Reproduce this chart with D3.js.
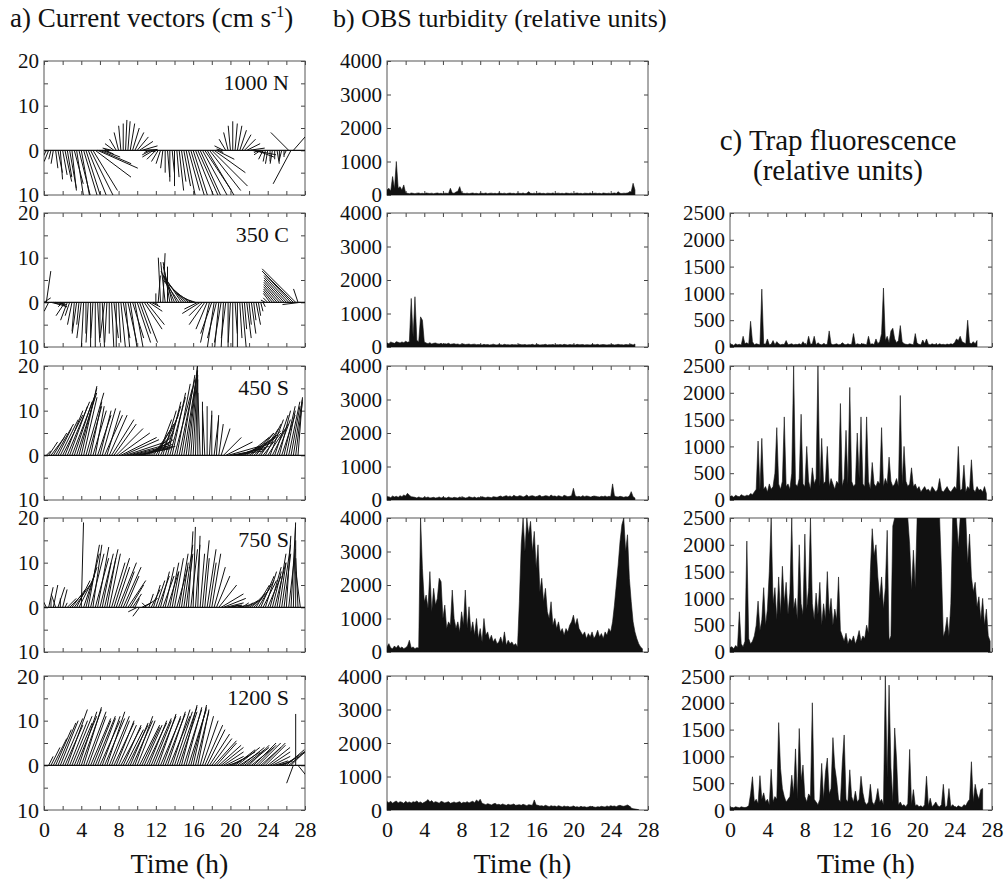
<!DOCTYPE html>
<html>
<head>
<meta charset="utf-8">
<script src="https://cdn.jsdelivr.net/npm/d3@7/dist/d3.min.js"></script>
<style>
  body { margin: 0; background: #fff; }
  text { font-family: "Liberation Serif", "Times New Roman", serif; fill: #111; }
</style>
</head>
<body>
<div id="vis"></div>
<script>
// ---- data ----
const stations = ["1000 N", "350 C", "450 S", "750 S", "1200 S"];
const stickStep = 0.25;   // h between current vectors
const seriesStep = 0.2;   // h between turbidity / fluorescence samples

const timeTicks = [0, 4, 8, 12, 16, 20, 24, 28];
const currentTicks = [-10, 0, 10, 20];
const obsTicks = [0, 1000, 2000, 3000, 4000];
const trapTicks = [0, 500, 1000, 1500, 2000, 2500];

// current vectors [u, v] in cm/s
const vec1000N = [
  [-1.5,-1.5],[-1,-2],[-1,-2.5],[-0.5,-2],[-0.5,-3],[0.5,-4],[1,-5],[0.5,-6.5],
  [1,-5.5],[1.5,-7],[1,-6],[1.5,-8.5],[1,-9],[2,-7.5],[1.5,-10],[2.5,-10],
  [2,-11],[3,-10],[3.5,-11],[4,-10],[5,-10],[5.5,-9],[8,-6],[9,-4],
  [7,-3],[4,-1.5],[2,-0.8],[0.5,-0.3],[-1,0.2],[-2,0.5],[-2,1.5],[-1.5,2.5],
  [-1,4],[-0.5,5.5],[0,6],[0.3,6.8],[0.5,6.5],[1,6],[1.5,5],[2,4],
  [2.5,3],[3,2],[3.5,1],[3,0.2],[2,-0.3],[-1,-0.5],[-2,-1],[-2.5,-1.5],
  [-2,-2],[-1.5,-2.5],[-1,-3],[-0.5,-4],[0,-5],[0.5,-6],[0,-7],[0.5,-5],
  [0,-8],[0.5,-6],[1,-9],[1,-7],[1.5,-8],[2,-10],[2.5,-9],[3,-10],
  [3.5,-11],[4,-10],[4.5,-10],[5,-11],[5.5,-10],[6,-9],[6,-10],[7,-9],
  [8,-8],[7,-5],[4,-2],[1,-0.5],[-1,0.3],[-2,1],[-1.5,2.5],[-1,4],
  [-0.5,5.5],[0,6.5],[0.5,6],[1,5.5],[1.5,4.5],[2,3.5],[2.5,2.5],[3,1.5],
  [3.5,0.5],[3,-0.5],[5,-1],[4,-1.5],[-1,-0.5],[-1.5,-1],[-1,-2],[-0.5,-2.5],
  [-0.5,-3],[0,-2.5],[-0.5,-3],[0,-2],[0.5,-3],[0,-2.5],[-0.5,-2],[0,-1.5],
  [-0.5,-1],[-4,4],[-4,-7.5],[3.5,4]
];
const vec350C = [
  [1.5,1],[1,7],[-1,-2],[2,-0.5],[3,-1],[2.5,-0.5],[2,-1],[1,-0.5],
  [-1,-1],[-2,-3],[-1.5,-4],[-1,-3],[-1,-5],[-0.5,-6.5],[-1,-7],[-0.5,-5],
  [-1,-8],[-0.5,-10],[0,-7],[-0.5,-9],[0,-10],[-0.5,-8],[0,-11],[0.5,-9],
  [0,-7],[0.5,-10],[-1,-8],[-0.5,-9],[0,-7],[0.5,-10],[1,-8],[0,-11],
  [0.5,-9],[1,-10],[1.5,-8],[1,-11],[2,-9],[1.5,-10],[2.5,-8],[2,-11],
  [3,-9],[2.5,-7],[3.5,-9],[4,-6],[4,-5],[3,-2],[2,-1],[1,-0.5],
  [0,2],[0.5,6],[-0.5,10],[0.5,11],[-1,9],[0,8],[-1.5,9],[-2,8],
  [-3,7],[-3,6],[-3.5,5],[-4,6],[-4,5],[-4,4],[-3.5,3],[-3,2],
  [-2,1],[-1.5,0.5],[-3,-1.5],[-4,-2.5],[-3,-3],[-3.5,-5],[-2.5,-6],[-2,-9],
  [-2.5,-7],[-1.5,-10],[-2,-8],[-1,-11],[-1.5,-9],[-0.5,-10],[-1,-8],[0,-11],
  [-0.5,-9],[0,-10],[0.5,-7],[0,-10],[0.5,-8],[1,-11],[0.5,-6],[1,-8],
  [0.5,-5],[1,-7],[0.5,-4],[1,-5],[0.5,-3],[0.5,-2],[0.5,-1],[-1,0.5],
  [-1,1],[-1.5,2],[-2,2.5],[-2.5,3],[-3,3.5],[-3.5,4],[-4,4.5],[-4.5,5],
  [-5,5.5],[-5.5,6],[-6,6.5],[-7,7],[-7.5,7.5],[-1,3],[-4,-0.5]
];
const vec450S = [
  [0,0],[1,1],[2,3],[3,4],[3,5],[4,7],[3,6],[4,8],
  [4.5,9],[4,10],[5,12],[4,11],[5,13],[4,12],[4.5,14],[4,15],
  [3.5,15.5],[3,13],[4,14],[3,11],[2.5,12],[3,10],[2,11],[3,9],
  [2.5,10],[3,10.5],[4,9],[3,10],[4,9],[5,8],[5,7],[6,6],
  [7,5],[8,4],[8,3.5],[9,3],[9,2.5],[8,2],[9,2],[8,1.5],
  [7,1.5],[8,2],[7,2.5],[6,3],[6,3.5],[5,4],[5,5],[4,6],
  [4,7],[3,8],[4,9],[3,10],[3.5,11],[3,12],[3.5,13],[3,14],
  [4,15],[3,16],[3.5,17],[3,18],[3,18.5],[2.5,19],[2,20],[1.5,20],
  [1,19],[0.5,18],[0,17],[-0.5,14],[0,12],[-0.5,10],[0,11],[0.5,9],
  [0,10],[1,8],[0.5,9],[1,7],[2,6],[4,4],[6,3],[7,2],
  [8,1.5],[7,1],[6,1.5],[7,2],[6,2.5],[7,3],[6,3.5],[5,4],
  [6,4],[5,5],[5,4.5],[4,5],[5,5.5],[4,6],[4,5],[3.5,7],
  [4,6],[3,8],[3.5,7],[3,9],[3,8],[2.5,10],[3,9],[2.5,11],
  [2,10],[2.5,12],[2,11],[2,12.5],[1.5,12],[1,13]
];
const vec750S = [
  [-1,3],[-2,4],[1,4.5],[0,2],[1,5],[-1,3],[1.5,4.5],[0,2],
  [1,4],[0.5,1],[2,2],[3,3],[3,4],[3.5,5],[3,6],[3.5,7],
  [0.5,19],[3,9],[3,12],[2.5,14],[3,12],[2,14],[3,11],[2.5,13.5],
  [3,12],[2,10],[3,13],[2,11],[2.5,12],[3,10],[3.5,11],[3,9],
  [4,10],[3,8],[4,9],[3,7],[4,6],[3,5],[2,3],[1,2],
  [-2,-1],[-1.5,-2],[2,1],[3,2],[-1,1],[1,3],[2,4],[1.5,5],
  [2,6],[2.5,7],[2,8],[2.5,7],[2,9],[2.5,8],[2,10],[1.5,8],
  [2,11],[2.5,9],[2,12],[1.5,10],[2,14],[1.5,12],[1,17],[1.5,13],
  [0.5,18],[1,14],[0.5,16],[1,12],[1.5,15],[1,11],[2,13],[1.5,10],
  [2,12],[2.5,9],[3,7],[4,5],[5,3],[5,2],[4,1],[3,0.5],
  [2,0.5],[1,0.5],[2,0.3],[1,0.5],[2,0.5],[1.5,1],[2,1],[2.5,1.5],
  [3,2],[3,3],[3.5,4],[3,5],[3.5,6],[3,7],[3,6],[2.5,8],
  [3,7],[2.5,9],[2,8],[2.5,10],[2,12],[1.5,10],[2,14],[1.5,12],
  [1,16],[1.5,13],[1,18],[0.5,19],[0,15],[-0.5,11],[-1,8]
];
const vec1200S = [
  [0,0],[0,0],[1,2],[2,4],[3,6],[3.5,8],[4,9.5],[4,10],
  [4.5,10.5],[4,9],[4.5,12.5],[4,10],[4.5,11],[4,9.5],[4.5,11],[4,12],
  [4.5,12.5],[4,13],[4.5,12],[4,11],[4.5,10.5],[4,10],[4.5,11],[4,10.5],
  [4.5,10],[4,11],[4.5,10.5],[4,12],[4.5,11],[4,10],[4.5,9.5],[4,10],
  [4,9],[4.5,8.5],[4,9],[4,8],[4.5,9],[4,9.5],[4.5,10],[4,11],
  [4,10],[4.5,9],[4,8.5],[4,9],[4.5,9.5],[4,10],[4.5,10.5],[4,10],
  [4.5,11],[4,11.5],[4.5,10.5],[4,11],[4.5,11.5],[4,12],[4.5,11],[4,12.5],
  [4,12],[4.5,13],[4,12],[3.5,13.5],[4,12.5],[3.5,13],[4,12.5],[3.5,13],
  [3,13.5],[3,12],[2.5,12.5],[3,11],[3.5,10],[4,9],[4,8],[4.5,7],
  [4.5,6],[5,5.5],[4.5,5],[5,4.5],[5,4],[4.5,3],[4,2],[3,1],
  [4,2],[5,3],[4.5,3.5],[5,4],[4.5,3],[5,4],[4.5,3.5],[5,4],
  [4.5,4.5],[5,4],[5,5],[4.5,4.5],[5,5],[4.5,4],[5,5],[4.5,4.5],
  [5,4],[4.5,3],[4,2],[3,1],[2,0.5],[3,1],[4,2],[4.5,3],
  [4,3.5],[5,4],[4.5,4.5],[-1.5,-4],[0,11.5],[2,-2.5]
];

// OBS turbidity (relative units)
const obs1000N = [
  150,200,120,550,180,1000,200,250,150,300,60,
  50,40,60,50,40,55,60,45,50,40,60,50,45,55,40,50,60,45,50,40,55,50,45,
  200,60,50,90,110,250,60,
  50,45,55,40,50,60,45,50,40,55,50,45,60,40,50,55,45,50,40,60,
  50,45,55,40,50,60,45,50,40,55,50,45,60,40,50,
  100,
  50,45,55,40,50,60,45,50,40,55,50,45,60,40,50,55,45,50,40,60,
  50,45,55,40,50,60,45,50,40,55,50,45,60,40,50,55,45,50,40,60,
  50,45,55,40,50,60,45,
  100,50,45,55,50,60,80,100,350,150
];
const obs350C = [
  120,100,150,130,110,160,140,120,150,130,170,140,160,
  1450,300,1500,200,150,900,800,150,
  120,100,130,90,110,120,100,90,110,80,100,90,110,80,90,100,80,90,70,85,90,75,80,90,70,80,85,70,75,
  70,60,80,65,75,60,70,85,65,60,75,70,60,80,65,70,60,75,65,70,
  60,80,70,65,75,60,70,65,80,60,70,75,60,65,70,80,60,70,65,75,
  60,70,65,75,60,80,70,60,75,65,70,60,80,65,70,75,60,70,65,60,
  75,70,65,80,60,70,75,65,60,70,65,75,60,70,80,65,70,60,75,70,
  65,80,60,90
];
const obs450S = [
  80,100,70,120,90,110,80,130,100,150,120,200,140,100,90,
  80,60,90,70,60,80,70,90,60,70,80,60,70,90,60,80,70,60,90,70,
  60,80,70,60,90,70,80,60,70,100,80,70,90,60,80,70,100,80,70,90,80,70,100,90,80,
  100,120,90,110,130,100,120,90,140,110,100,130,120,90,110,150,100,120,130,110,
  90,120,140,100,110,130,120,100,150,110,120,100,130,110,90,140,120,100,110,130,
  350,
  120,100,110,90,130,100,120,110,90,100,120,110,100,90,110,100,120,90,110,
  100,480,120,100,90,110,100,80,100,90,120,250,100,60
];
const obs750S = [
  150,250,120,100,180,120,200,110,150,100,130,180,350,120,150,100,130,120,
  4000,2500,1500,1700,1300,2400,1200,1900,1400,1600,2200,2100,
  1000,1400,700,900,800,1850,1000,700,900,600,
  1200,800,1850,700,1350,600,900,500,1000,400,
  700,300,1000,500,600,350,500,300,400,250,
  300,450,250,600,200,350,250,300,200,250,150,
  1500,3200,4000,3000,4000,3500,3900,3000,3600,2500,3200,1800,2200,1500,1900,1200,1000,1500,800,
  1000,700,900,600,700,500,700,600,800,900,
  1100,800,1000,700,600,500,600,400,550,450,
  600,400,500,650,450,550,400,600,500,700,
  600,900,1400,2000,2600,3300,3800,4000,3000,3500,
  2200,1500,900,600,400,250,150,100
];
const obs1200S = [
  250,220,260,200,240,270,210,250,230,200,
  260,220,240,210,250,230,270,220,240,200,
  230,260,310,240,280,220,250,230,200,260,
  240,210,230,250,200,220,240,210,230,250,
  200,230,220,250,210,240,260,220,300,250,
  320,
  200,180,160,190,170,150,180,200,160,170,150,180,160,140,170,150,160,180,140,150,
  160,140,170,150,130,160,150,140,300,150,
  140,120,130,110,140,120,100,130,110,120,100,130,110,90,120,100,110,90,100,120,
  90,100,80,110,90,100,80,90,110,100,90,80,100,90,110,100,90,120,100,130,
  110,120,100,130,140,120,110,130,150,120,
  60,40,30,20,10
];

// Trap fluorescence (relative units)
const trap350C = [
  40,50,30,60,40,50,35,200,60,80,
  50,480,100,40,60,50,40,1080,60,50,
  150,40,50,120,40,100,60,40,50,45,
  120,40,50,60,40,50,45,60,40,100,
  50,40,200,50,60,200,40,80,50,40,
  60,45,50,300,60,40,50,60,40,45,
  80,50,40,60,45,50,250,40,60,50,
  45,60,50,40,200,50,60,45,150,60,
  100,250,1100,120,200,80,300,350,150,80,
  120,400,100,60,50,45,60,50,40,250,
  60,50,40,130,60,150,50,40,60,45,
  50,40,60,45,50,40,55,45,60,50,
  80,150,120,200,100,80,60,500,80,60,100,60,120
];
const trap450S = [
  60,80,50,90,70,60,100,80,70,90,
  80,120,100,150,200,1100,180,1150,200,250,
  150,300,200,250,500,1350,300,200,350,1550,
  250,300,200,500,2500,300,250,400,1600,300,
  250,1000,350,200,600,300,400,2500,250,1150,
  300,350,1000,250,400,300,200,350,300,1800,
  250,400,1300,300,2100,350,250,300,1250,400,
  1550,300,250,1550,350,200,700,300,250,350,
  300,1350,250,400,300,800,350,250,300,400,
  250,1950,300,1000,350,250,300,600,250,300,
  200,250,150,200,250,180,200,150,250,200,
  150,200,400,180,150,200,250,180,150,200,
  250,200,1000,180,200,650,150,250,200,750,
  200,150,250,180,200,150,250,120
];
const trap750S = [
  80,100,60,120,90,750,150,100,200,2070,
  250,150,200,300,500,950,400,600,1200,500,
  800,1500,2500,900,1200,600,1400,700,1600,900,
  1300,700,1100,2500,800,1000,600,2000,900,700,
  2200,800,1200,2500,900,600,1100,700,1300,500,
  900,600,1500,700,1000,500,800,600,1400,400,
  300,200,350,150,250,200,300,150,250,400,
  200,300,250,500,350,1500,2300,1800,2000,1400,
  1000,1400,800,1200,2270,220,300,2350,2500,2500,
  2600,2500,2500,2600,2500,2500,2000,1150,1900,1200,
  2500,2500,2500,2500,2500,2500,2500,2500,2500,2500,
  2500,2500,2500,1500,280,400,650,300,900,2500,
  2500,2500,1950,2500,2500,2500,2500,1650,2200,1400,
  1120,1300,840,1030,600,1000,500,800,300,200
];
const trap1200S = [
  40,50,40,60,50,40,60,50,45,55,
  80,300,620,150,200,120,640,200,320,150,
  200,100,760,150,250,200,1630,780,400,250,
  150,200,250,650,300,1140,200,1520,550,840,
  250,150,300,250,2000,200,150,100,200,870,
  200,700,970,300,400,1350,800,550,200,150,
  880,1400,200,150,750,250,150,350,150,200,
  630,320,150,100,150,480,150,100,200,400,
  150,200,100,2500,600,2330,800,150,1530,950,
  100,150,80,100,60,120,1130,100,380,80,
  100,60,80,50,100,630,80,220,60,100,
  150,80,60,100,480,50,80,400,60,100,
  60,50,80,60,50,100,80,150,200,900,
  150,480,300,200,380,400
];

const vectors = [vec1000N, vec350C, vec450S, vec750S, vec1200S];
const turbidity = [obs1000N, obs350C, obs450S, obs750S, obs1200S];
const fluorescence = [null, trap350C, trap450S, trap750S, trap1200S];

// ---- layout ----
const layout = {
  width: 1005,
  height: 882,
  rowTops: [61, 213, 366, 518, 676],
  panelHeight: 134,
  colA: [44, 305],
  colB: [387, 648],
  colC: [730, 992],
  tickFont: 21
};

const svg = d3.select("#vis").append("svg")
  .attr("width", layout.width)
  .attr("height", layout.height)
  .attr("viewBox", [0, 0, layout.width, layout.height].join(" "));

let clipId = 0;

// frame, inward ticks on all four sides, labels left (and bottom on last row)
function drawPanel(col, row, yDomain, yTicks, yLabelled, yFmt) {
  const top = layout.rowTops[row];
  const bottom = top + layout.panelHeight;
  const x = d3.scaleLinear().domain([0, 28]).range(col);
  const y = d3.scaleLinear().domain(yDomain).range([bottom, top]).clamp(true);
  const xTicks = d3.range(0, 29, 2);
  const isBottom = row === layout.rowTops.length - 1;

  const axes = svg.append("g");
  axes.append("g")
    .attr("transform", `translate(${col[0]},0)`)
    .call(d3.axisLeft(y).tickValues(yTicks).tickSizeInner(-4).tickSizeOuter(0).tickPadding(5)
      .tickFormat(d => yLabelled.includes(d) ? yFmt(d) : ""));
  axes.append("g")
    .attr("transform", `translate(${col[1]},0)`)
    .call(d3.axisRight(y).tickValues(yTicks).tickSizeInner(-4).tickSizeOuter(0).tickFormat(""));
  axes.append("g")
    .attr("transform", `translate(0,${top})`)
    .call(d3.axisTop(x).tickValues(xTicks).tickSizeInner(-4).tickSizeOuter(0).tickFormat(""));
  axes.append("g")
    .attr("transform", `translate(0,${bottom})`)
    .call(d3.axisBottom(x).tickValues(xTicks).tickSizeInner(-4).tickSizeOuter(0).tickPadding(11)
      .tickFormat(d => isBottom && timeTicks.includes(d) ? d : ""));

  axes.selectAll(".domain").remove();
  axes.selectAll("line").attr("stroke", "#444").attr("stroke-width", 1);
  axes.selectAll("text")
    .attr("font-family", "'Liberation Serif', 'Times New Roman', serif")
    .attr("font-size", isBottom ? 22 : layout.tickFont)
    .attr("fill", "#111");

  svg.append("rect")
    .attr("x", col[0]).attr("y", top)
    .attr("width", col[1] - col[0]).attr("height", layout.panelHeight)
    .attr("fill", "none").attr("stroke", "#555").attr("stroke-width", 1);

  const id = "clip" + (clipId++);
  svg.append("clipPath").attr("id", id)
    .append("rect")
    .attr("x", col[0]).attr("y", top)
    .attr("width", col[1] - col[0]).attr("height", layout.panelHeight);
  const plot = svg.append("g").attr("clip-path", `url(#${id})`);

  return { x, y, plot, top, bottom };
}

// a) current vector stick plots
vectors.forEach((vecs, row) => {
  const p = drawPanel(layout.colA, row, [-10, 20], [-10, -5, 0, 5, 10, 15, 20], currentTicks, d => Math.abs(d));
  const k = p.y(0) - p.y(1);   // same cm/s scale on both axes
  p.plot.selectAll("line.stick")
    .data(vecs)
    .join("line")
    .attr("class", "stick")
    .attr("x1", (d, i) => p.x(i * stickStep))
    .attr("y1", p.y(0))
    .attr("x2", (d, i) => p.x(i * stickStep) + d[0] * k)
    .attr("y2", d => p.y(0) - d[1] * k)
    .attr("stroke", "#111")
    .attr("stroke-width", 1);
  p.plot.append("line")
    .attr("x1", p.x(0)).attr("x2", p.x(28))
    .attr("y1", p.y(0)).attr("y2", p.y(0))
    .attr("stroke", "#111").attr("stroke-width", 1.2);
  svg.append("text")
    .attr("x", layout.colA[1] - 16)
    .attr("y", p.top + 29)
    .attr("text-anchor", "end")
    .attr("font-size", 22)
    .text(stations[row]);
});

function drawSeries(p, values) {
  const area = d3.area()
    .x((d, i) => p.x(i * seriesStep))
    .y0(p.y(0))
    .y1(d => p.y(d));
  p.plot.append("path")
    .datum(values)
    .attr("d", area)
    .attr("fill", "#111")
    .attr("stroke", "#111")
    .attr("stroke-width", 0.6)
    .attr("stroke-linejoin", "round");
}

// b) OBS turbidity
turbidity.forEach((vals, row) => {
  const p = drawPanel(layout.colB, row, [0, 4000], obsTicks, obsTicks, d => d);
  drawSeries(p, vals);
});

// c) trap fluorescence (no record at 1000 N)
fluorescence.forEach((vals, row) => {
  if (!vals) return;
  const p = drawPanel(layout.colC, row, [0, 2500], trapTicks, trapTicks, d => d);
  drawSeries(p, vals);
});

// ---- titles ----
const titleA = svg.append("text").attr("x", 10).attr("y", 27).attr("font-size", 27);
titleA.append("tspan").text("a) Current vectors (cm s");
titleA.append("tspan").attr("font-size", 16).attr("dy", -10).text("-1");
titleA.append("tspan").attr("dy", 10).text(")");

svg.append("text").attr("x", 333).attr("y", 27).attr("font-size", 26)
  .text("b) OBS turbidity (relative units)");

svg.append("text").attr("x", 838).attr("y", 150).attr("font-size", 29)
  .attr("text-anchor", "middle").text("c) Trap fluorescence");
svg.append("text").attr("x", 838).attr("y", 180).attr("font-size", 29)
  .attr("text-anchor", "middle").text("(relative units)");

[layout.colA, layout.colB, layout.colC].forEach(col => {
  svg.append("text")
    .attr("x", (col[0] + col[1]) / 2 + 5)
    .attr("y", 873)
    .attr("text-anchor", "middle")
    .attr("font-size", 28)
    .text("Time (h)");
});
</script>
</body>
</html>
